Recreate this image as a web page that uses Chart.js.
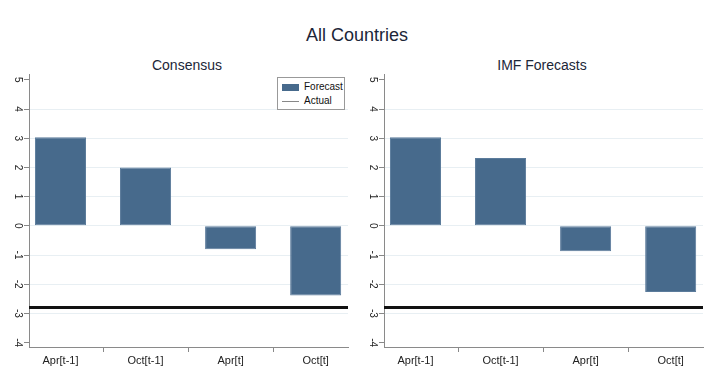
<!DOCTYPE html>
<html>
<head>
<meta charset="utf-8">
<script src="https://cdn.jsdelivr.net/npm/chart.js@4.4.0/dist/chart.umd.min.js"></script>
<style>
  body { margin: 0; background: #fff; font-family: 'Liberation Sans', Arial, sans-serif; }
  .page { position: relative; width: 719px; height: 377px; overflow: hidden; }
  .mainTitle { position: absolute; left: 0; width: 714px; top: 25px; text-align: center; font-size: 18px; color: #1c2638; }
  .panelTitle { position: absolute; top: 57px; font-size: 14px; color: #1c2638; text-align: center; width: 320px; }
  .panel { position: absolute; top: 66px; width: 352px; height: 311px; }
  .legend { position: absolute; left: 277px; top: 77px; width: 66px; height: 31px; border: 1px solid #999; background: #fff; font-size: 10px; color: #111; }
  .legend .row { position: absolute; left: 4px; height: 12px; line-height: 12px; white-space: nowrap; }
  .legend .sw { display: inline-block; vertical-align: middle; width: 17px; margin-right: 5px; }
</style>
</head>
<body>
<div class="page">
  <div class="mainTitle">All Countries</div>
  <div class="panelTitle" style="left:27px">Consensus</div>
  <div class="panelTitle" style="left:382px">IMF Forecasts</div>
  <div class="panel" style="left:0"><canvas id="consensus"></canvas></div>
  <div class="panel" style="left:355px"><canvas id="imf"></canvas></div>
  <div class="legend">
    <div class="row" style="top:3px"><span class="sw" style="height:7px;background:#476a8c"></span>Forecast</div>
    <div class="row" style="top:17px"><span class="sw" style="height:1px;background:#888"></span>Actual</div>
  </div>
</div>
<script>
const categories = ['Apr[t-1]', 'Oct[t-1]', 'Apr[t]', 'Oct[t]'];
const consensusForecast = [3.03, 2.0, -0.8, -2.39];
const imfForecast = [3.03, 2.32, -0.87, -2.27];
const consensusActual = -2.8;
const imfActual = -2.8;
const yTicks = [-4, -3, -2, -1, 0, 1, 2, 3, 4, 5];

const X_MIN = 0.63, X_MAX = 4.38;
const Y_MIN = -4.15, Y_MAX = 5.2;
const BAR = '#476a8c';

function makePanel(id, forecast, actual) {
  const ctx = document.getElementById(id).getContext('2d');
  return new Chart(ctx, {
    type: 'bar',
    data: {
      datasets: [
        {
          type: 'bar',
          label: 'Forecast',
          data: forecast.map((v, i) => ({ x: i + 1, y: v })),
          backgroundColor: BAR,
          borderColor: '#5b7b9b',
          borderWidth: 1,
          borderSkipped: false,
          barPercentage: 0.6,
          categoryPercentage: 1,
        },
        {
          type: 'line',
          label: 'Actual',
          data: [{ x: X_MIN, y: actual }, { x: X_MAX, y: actual }],
          borderColor: '#111',
          borderWidth: 3,
          pointRadius: 0,
        },
      ],
    },
    options: {
      responsive: true,
      maintainAspectRatio: false,
      animation: false,
      layout: { padding: { top: 0, right: 4, left: 0, bottom: 0 } },
      plugins: { legend: { display: false }, tooltip: { enabled: false } },
      scales: {
        x: {
          type: 'linear',
          min: X_MIN,
          max: X_MAX,
          offset: false,
          afterBuildTicks: (axis) => { axis.ticks = categories.map((c, i) => ({ value: i + 1 })); },
          afterFit: (scale) => { scale.height = 30; },
          grid: { drawOnChartArea: false, tickLength: 5, tickColor: '#888' },
          border: { color: '#8a8a8a', width: 1 },
          ticks: {
            autoSkip: false,
            maxRotation: 0,
            padding: 2,
            color: '#222',
            font: { family: 'Liberation Sans', size: 11 },
            callback: (v) => categories[v - 1],
          },
        },
        y: {
          min: Y_MIN,
          max: Y_MAX,
          afterBuildTicks: (axis) => { axis.ticks = yTicks.map((v) => ({ value: v })); },
          afterFit: (scale) => { scale.width = 29; },
          grid: {
            color: (c) => (c.tick && (c.tick.value === 5 || c.tick.value === -4) ? 'rgba(0,0,0,0)' : '#e8eff3'),
            tickColor: '#888',
            tickLength: 5,
          },
          border: { color: '#8a8a8a', width: 1 },
          ticks: {
            minRotation: -90,
            maxRotation: -90,
            crossAlign: 'center',
            padding: 2,
            color: '#222',
            font: { family: 'Liberation Sans', size: 10 },
          },
        },
      },
    },
  });
}

makePanel('consensus', consensusForecast, consensusActual);
makePanel('imf', imfForecast, imfActual);
</script>
</body>
</html>
